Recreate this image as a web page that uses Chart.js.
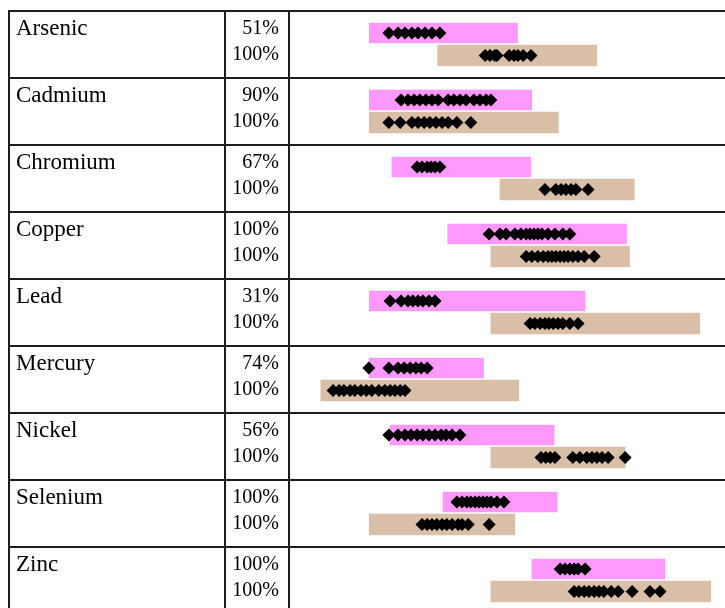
<!DOCTYPE html>
<html>
<head>
<meta charset="utf-8">
<script src="https://cdn.jsdelivr.net/npm/chart.js@4/dist/chart.umd.min.js"></script>
<style>
  html, body { margin: 0; padding: 0; background: #fff; overflow: hidden; }
  #wrap { width: 725px; height: 608px; }
</style>
</head>
<body>
<div id="wrap"><canvas id="c" width="725" height="608"></canvas></div>
<script>
// Metals and the share of samples above detection for each of the two surveys
const metals = ['Arsenic', 'Cadmium', 'Chromium', 'Copper', 'Lead', 'Mercury', 'Nickel', 'Selenium', 'Zinc'];
const pctA = [51, 90, 67, 100, 31, 74, 56, 100, 100];
const pctB = [100, 100, 100, 100, 100, 100, 100, 100, 100];

// Range bars (low, high) for each survey
const rangeA = [[18.4, 52.4], [18.4, 55.7], [23.6, 55.4], [36.4, 77.4], [18.4, 67.9],
                [18.4, 44.6], [23.1, 60.8], [35.3, 61.5], [55.7, 86.2]];
const rangeB = [[34.1, 70.6], [18.4, 61.8], [48.4, 79.2], [46.3, 78.1], [46.3, 94.2],
                [7.3, 52.7], [46.3, 77.1], [18.4, 51.8], [46.3, 96.7]];

// Individual measurements for each survey
const samplesA = [
  [22.9, 25.0, 26.6, 28.2, 29.6, 31.2, 32.8, 34.6],
  [25.7, 27.3, 28.7, 30.0, 31.4, 32.8, 34.2, 36.5, 37.8, 39.2, 40.6, 42.4, 43.8, 45.2, 46.3],
  [29.4, 30.5, 31.7, 32.6, 33.5, 34.6],
  [45.9, 48.4, 49.8, 51.8, 53.2, 54.4, 55.3, 56.2, 57.1, 58.0, 59.4, 61.0, 62.8, 64.4],
  [23.2, 25.7, 27.3, 28.4, 29.6, 30.7, 32.1, 33.5],
  [18.3, 22.9, 25.0, 26.4, 27.8, 29.1, 30.3, 31.7],
  [22.9, 25.0, 26.6, 28.0, 29.4, 30.7, 32.1, 33.5, 34.9, 36.0, 37.4, 39.2],
  [38.5, 39.7, 40.8, 41.7, 42.7, 43.6, 44.5, 45.4, 46.3, 47.7, 49.3],
  [62.2, 63.3, 64.4, 65.4, 66.3, 67.9]
];
const samplesB = [
  [45.0, 46.1, 47.2, 47.7, 50.5, 51.6, 52.5, 53.7, 55.5],
  [22.9, 25.5, 28.2, 29.6, 31.0, 32.3, 33.7, 35.1, 36.5, 38.5, 41.7],
  [58.7, 61.2, 62.4, 63.5, 64.7, 65.8, 68.6],
  [54.4, 55.7, 57.1, 58.3, 59.4, 60.3, 61.2, 62.2, 63.1, 64.0, 65.1, 66.3, 67.7, 70.0],
  [55.3, 56.4, 57.6, 58.7, 59.6, 60.6, 61.7, 62.8, 64.4, 66.3],
  [10.1, 11.5, 12.6, 14.0, 15.1, 16.5, 17.7, 19.0, 20.6, 22.0, 23.2, 24.3, 25.5, 26.6],
  [57.8, 58.9, 59.9, 61.0, 65.1, 66.7, 68.3, 69.5, 70.6, 71.8, 73.2, 77.1],
  [30.5, 31.7, 32.8, 33.9, 35.1, 36.2, 37.4, 38.8, 39.7, 41.1, 45.9],
  [65.4, 66.5, 67.7, 68.8, 70.0, 71.1, 72.2, 73.9, 75.5, 78.7, 82.8, 85.1]
];

// Vertical slot of each survey within a metal's row
const OFF_A = 0.328, OFF_B = 0.664;

const barsA = rangeA.map((r, i) => ({ x: r, y: i + OFF_A }));
const barsB = rangeB.map((r, i) => ({ x: r, y: i + OFF_B }));
const ptsA = samplesA.flatMap((arr, i) => arr.map(v => ({ x: v, y: i + OFF_A })));
const ptsB = samplesB.flatMap((arr, i) => arr.map(v => ({ x: v, y: i + OFF_B })));

const SERIF = '"Liberation Serif", "Times New Roman", serif';

// Table grid and row labels
const tablePlugin = {
  id: 'table',
  afterDraw(chart) {
    const ctx = chart.ctx;
    const ys = chart.scales.y;
    const area = chart.chartArea;
    const W = chart.width, H = chart.height;
    const colLeft = 9, colPct = 225, colPlot = area.left;
    ctx.save();
    ctx.strokeStyle = '#1e1e1e';
    ctx.lineWidth = 2;
    ctx.beginPath();
    for (let i = 0; i < metals.length; i++) {
      const y = Math.round(ys.getPixelForValue(i));
      ctx.moveTo(colLeft - 1, y);
      ctx.lineTo(W, y);
    }
    const top = Math.round(ys.getPixelForValue(0));
    [colLeft, colPct, colPlot].forEach(x => {
      ctx.moveTo(x, top);
      ctx.lineTo(x, H);
    });
    ctx.stroke();

    ctx.fillStyle = '#000';
    ctx.textBaseline = 'alphabetic';
    metals.forEach((m, i) => {
      const y0 = ys.getPixelForValue(i);
      ctx.font = '23px ' + SERIF;
      ctx.textAlign = 'left';
      ctx.fillText(m, 16, y0 + 24);
      ctx.font = '20px ' + SERIF;
      ctx.textAlign = 'right';
      ctx.fillText(pctA[i] + '%', 279, y0 + 23);
      ctx.fillText(pctB[i] + '%', 279, y0 + 49);
    });
    ctx.restore();
  }
};

const diamond = {
  pointStyle: 'rectRot',
  pointRadius: 6.5,
  pointHoverRadius: 6.5,
  backgroundColor: '#000',
  borderWidth: 0
};

new Chart(document.getElementById('c'), {
  type: 'bar',
  data: {
    datasets: [
      Object.assign({ type: 'scatter', data: ptsA, order: 0 }, diamond),
      Object.assign({ type: 'scatter', data: ptsB, order: 0 }, diamond),
      { type: 'bar', data: barsA, backgroundColor: '#FF99FF', barThickness: 20, grouped: false, order: 1 },
      { type: 'bar', data: barsB, backgroundColor: '#D9BFA7', barThickness: 21, grouped: false, order: 1 }
    ]
  },
  options: {
    indexAxis: 'y',
    responsive: false,
    devicePixelRatio: 1,
    animation: false,
    layout: { autoPadding: false, padding: { left: 289, top: 11, right: 0, bottom: 0 } },
    scales: {
      x: { type: 'linear', min: 0, max: 100, offset: false, display: false },
      y: { type: 'linear', min: 0, max: 597 / 67, reverse: true, offset: false, display: false }
    },
    plugins: { legend: { display: false }, tooltip: { enabled: false } }
  },
  plugins: [tablePlugin]
});
</script>
</body>
</html>
